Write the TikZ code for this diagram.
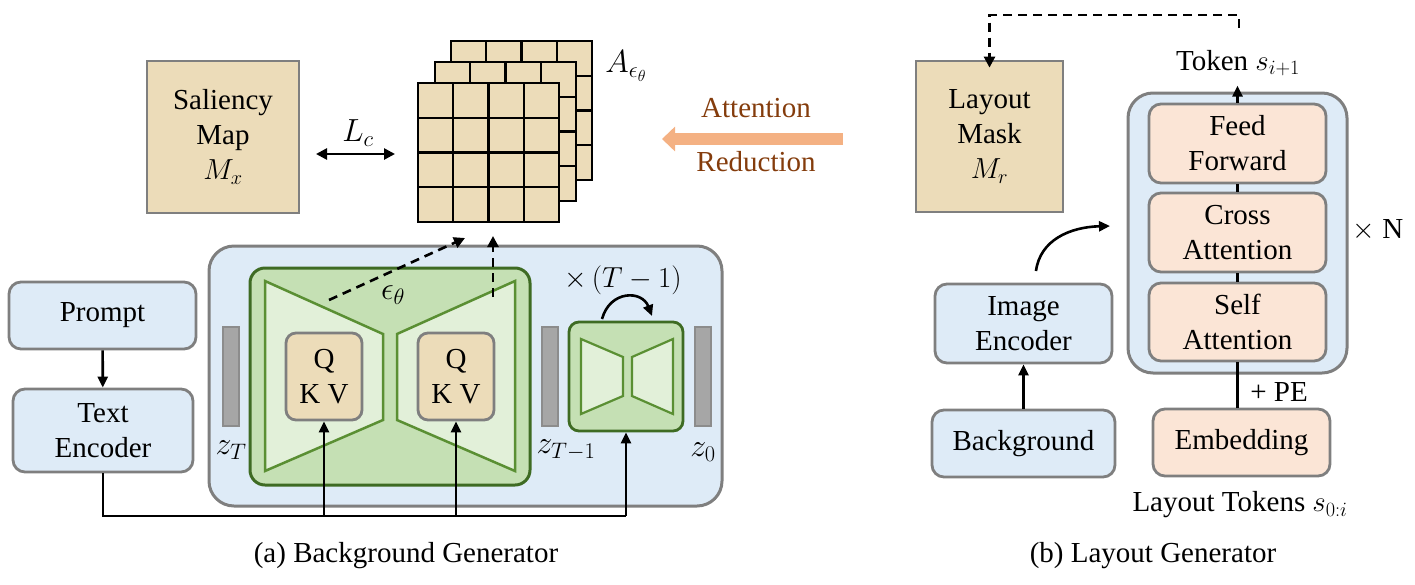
\RequirePackage{fix-cm}
\documentclass[tikz,border=0pt]{standalone}
\usepackage{fontspec}
\setmainfont{Liberation Serif}
\usetikzlibrary{arrows.meta,positioning}
\definecolor{bgblue}{HTML}{DEEBF7}
\definecolor{boxgray}{HTML}{7F7F7F}
\definecolor{unetgreen}{HTML}{C5E0B4}
\definecolor{unetdark}{HTML}{3E6B23}
\definecolor{trapgreen}{HTML}{E2F0D9}
\definecolor{trapline}{HTML}{5A8F33}
\definecolor{parch}{HTML}{ECDCB9}
\definecolor{peach}{HTML}{FBE5D6}
\definecolor{redorange}{HTML}{F4B183}
\definecolor{redbrown}{HTML}{843C0C}
\definecolor{latgray}{HTML}{A6A6A6}

\begin{document}
\begin{tikzpicture}[x=1pt, y=-1pt,
    every node/.style={font=\fontsize{29}{35}\selectfont, align=center, inner sep=2pt},
    mathlabel/.style={font=\fontsize{32}{36}\selectfont},
    bluebox/.style={draw=boxgray, fill=bgblue, line width=2.8pt, rounded corners=12pt, inner sep=0pt},
    peachbox/.style={draw=boxgray, fill=peach, line width=2.8pt, rounded corners=12pt, inner sep=0pt},
    mapbox/.style={draw=boxgray, fill=parch, line width=2.8pt, inner sep=0pt},
    latent/.style={draw=boxgray!90, fill=latgray, line width=1.5pt, minimum width=16pt, minimum height=99pt, inner sep=0pt},
    arr/.style={line width=2.6pt, -{Triangle[length=11pt,width=10pt]}},
    dasharr/.style={line width=2.6pt, dash pattern=on 9pt off 6pt, -{Triangle[length=11pt,width=11pt]}}]
  \useasboundingbox (0,0) rectangle (1415,584);

  % Background generator
  \draw[draw=boxgray, fill=bgblue, line width=3pt, rounded corners=25pt] (209,246) rectangle (722,506);
  \draw[draw=unetdark, fill=unetgreen, line width=3pt, rounded corners=15pt] (250,268) rectangle (530,485);
  \draw[draw=trapline, fill=trapgreen, line width=2.5pt] (265,281) -- (383,334) -- (383,420) -- (265,471) -- cycle;
  \draw[draw=trapline, fill=trapgreen, line width=2.5pt] (515,281) -- (397,334) -- (397,420) -- (515,471) -- cycle;
  \node[mathlabel] (eps) at (393,295) {$\epsilon_\theta$};

  % Q K V
  \node[peachbox, fill=parch, rounded corners=10pt, minimum width=76pt, minimum height=87pt] (qkv1) at (324,376.5) {Q\\K V};
  \node[peachbox, fill=parch, rounded corners=10pt, minimum width=76pt, minimum height=87pt] (qkv2) at (456,376.5) {Q\\K V};

  % Latents
  \node[latent] (zT) at (231,376.5) {};
  \node[latent] (zT1) at (550,376.5) {};
  \node[latent] (z0) at (703,376.5) {};
  \node[mathlabel] (zTl) at (231,450) {$z_T$};
  \node[mathlabel] (zT1l) at (566,450) {$z_{T-1}$};
  \node[mathlabel] (z0l) at (703,452) {$z_0$};

  % Small UNet
  \node[draw=unetdark, fill=unetgreen, line width=2.8pt, rounded corners=10pt, minimum width=114pt, minimum height=109pt, inner sep=0pt] (sunet) at (626,376.5) {};
  \draw[draw=trapline, fill=trapgreen, line width=2.2pt] (581,339) -- (623,357) -- (623,396) -- (581,414) -- cycle;
  \draw[draw=trapline, fill=trapgreen, line width=2.2pt] (673,339) -- (632,357) -- (632,396) -- (673,414) -- cycle;
  \coordinate (loopa) at (602,319);
  \coordinate (loopb) at (652,316);
  \draw[arr] (loopa) .. controls (610,290) and (642,290) .. (loopb);
  \node (loopl) at (623,280) {$\times\,(T-1)$};

  % Prompt and encoder
  \node[bluebox, minimum width=187pt, minimum height=67pt] (prompt) at (102.5,315.5) {Prompt};
  \node[bluebox, minimum width=180pt, minimum height=83pt] (tenc) at (103,430.5) {Text\\Encoder};
  \draw[arr] (prompt) -- (tenc);
  \coordinate (bus) at (626,516);
  \draw[line width=2.6pt] (tenc.south) |- (bus);
  \draw[arr] (bus) -- (sunet.south);
  \draw[arr] (qkv1.south |- bus) -- (qkv1.south);
  \draw[arr] (qkv2.south |- bus) -- (qkv2.south);

  % Attention maps
  \foreach \dx/\dy in {33/-42, 17/-21, 0/0} {
    \fill[parch] (418+\dx,83+\dy) rectangle ++(141,139);
    \foreach \i in {1,2,3} {
      \draw[line width=2.2pt] (418+\dx+\i*35.25,83+\dy) -- ++(0,139);
      \draw[line width=2.2pt] (418+\dx,83+\dy+\i*34.75) -- ++(141,0);
    }
    \draw[line width=2.6pt] (418+\dx,83+\dy) rectangle ++(141,139);
  }
  \node[minimum width=141pt, minimum height=139pt, inner sep=0pt] (attn) at (488.5,152.5) {};
  \node[mathlabel] (attnl) at (626,66) {$A_{\epsilon_\theta}$};

  % Saliency map
  \node[mapbox, minimum size=152pt] (sal) at (223,137) {Saliency\\Map\\$M_x$};
  \coordinate (lcl) at (316,154);
  \coordinate (lcr) at (395,154);
  \draw[line width=2.6pt, {Triangle[length=11pt,width=11pt]}-{Triangle[length=11pt,width=11pt]}] (lcl) -- (lcr);
  \node[mathlabel] (lc) at (358,133) {$L_c$};

  % dashed links to attention maps
  \coordinate (encout) at (329,300);
  \coordinate (decout) at (493,297);
  \draw[dasharr] (encout) -- (465,238);
  \draw[dasharr] (decout) -- (493,236);

  % Attention reduction
  \coordinate (redr) at (843,139);
  \coordinate (redl) at (662,139);
  \draw[redorange, line width=12pt, -{Triangle[length=13pt,width=24pt]}] (redr) -- (redl);
  \node[text=redbrown] (attl) at (756,108) {Attention};
  \node[text=redbrown] (redlab) at (756,162) {Reduction};

  % Layout generator
  \node[mapbox, minimum width=147pt, minimum height=151pt] (mask) at (989.5,136.5) {Layout\\Mask\\$M_r$};
  \draw[draw=boxgray, fill=bgblue, line width=3pt, rounded corners=25pt] (1128,93) rectangle (1347,373);
  \node[peachbox, minimum width=177pt, minimum height=79pt] (ff) at (1237.5,143.5) {Feed\\Forward};
  \node[peachbox, minimum width=177pt, minimum height=79pt] (ca) at (1237.5,232.5) {Cross\\Attention};
  \node[peachbox, minimum width=177pt, minimum height=78pt] (sa) at (1237.5,322) {Self\\Attention};
  \draw[line width=2.6pt] (ff) -- (ca);
  \draw[line width=2.6pt] (ca) -- (sa);
  \node (xn) at (1378,230) {$\times$ N};

  \node (tok) at (1238,63) {Token $s_{i+1}$};
  \draw[arr] (ff.north) -- ++(0,-17);
  \coordinate (fb) at (1239,28);
  \draw[dasharr] (fb) -- (1239,15) -| ([yshift=-8pt]mask.north);

  \node[bluebox, minimum width=177pt, minimum height=79pt] (ienc) at (1023.5,323.5) {Image\\Encoder};
  \node[bluebox, minimum width=183pt, minimum height=67pt] (bg) at (1023.5,443.5) {Background};
  \draw[arr] (bg) -- (ienc);
  \coordinate (ca0) at (1036,271);
  \coordinate (ca1) at (1110,226);
  \draw[arr] (ca0) .. controls (1040,240) and (1070,227) .. (ca1);

  \node[peachbox, minimum width=177pt, minimum height=67pt] (emb) at (1241.5,442.5) {Embedding};
  \draw[line width=2.6pt] (sa.south) -- (sa.south |- emb.north);
  \node (pe) at (1279,392) {+ PE};
  \node (ltok) at (1240,505) {Layout Tokens $s_{0:i}$};

  % captions
  \node (capa) at (406,556) {(a) Background Generator};
  \node (capb) at (1153,556) {(b) Layout Generator};
\end{tikzpicture}
\end{document}
